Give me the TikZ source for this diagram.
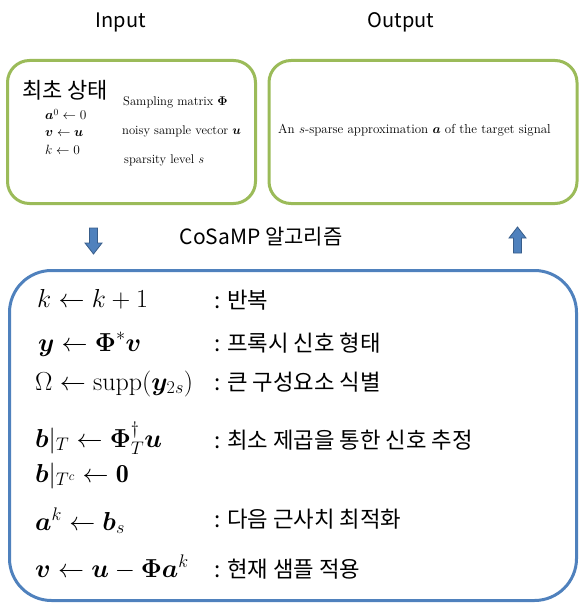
\RequirePackage{fix-cm}
\documentclass[tikz,border=0pt]{standalone}
\usepackage{amsmath,amssymb,bm}
\usepackage{fontspec}
\newfontfamily\krfont{Noto Sans CJK KR}
\definecolor{grn}{HTML}{9BBB59}
\definecolor{blu}{HTML}{4F81BD}
\definecolor{bludark}{HTML}{385D8A}
\tikzset{
  gbox/.style={draw=grn, line width=3pt, rounded corners=22pt, inner sep=0pt},
  bbox/.style={draw=blu, line width=3pt, rounded corners=42pt, inner sep=0pt},
  head/.style={anchor=base, inner sep=0pt, font=\krfont\fontsize{20}{24}\selectfont},
  title/.style={anchor=base west, inner sep=0pt, font=\krfont\fontsize{22}{26}\selectfont},
  small/.style={anchor=base west, inner sep=0pt, font=\fontsize{12.6}{15}\selectfont},
  smallmath/.style={anchor=base west, inner sep=0pt, font=\fontsize{13.4}{16}\selectfont},
  mrow/.style={anchor=base west, inner sep=0pt, font=\fontsize{26}{31}\selectfont},
  lbl/.style={anchor=base west, inner sep=0pt, font=\krfont\fontsize{22.3}{26}\selectfont},
  blockarrow/.style={fill=blu, draw=bludark, line width=0.8pt, line join=miter}
}
\begin{document}
\begin{tikzpicture}[x=1pt,y=-1pt]
\useasboundingbox (0,0) rectangle (579,604);
% headings
\node[head] (inlbl) at (121,28) {Input};
\node[head] (outlbl) at (401,28) {Output};
% boxes
\node[gbox, minimum width=248pt, minimum height=143pt] (inbox) at (131.5,132) {};
\node[gbox, minimum width=308pt, minimum height=143pt] (outbox) at (423,132) {};
\node[bbox, minimum width=567pt, minimum height=330pt] (algbox) at (293,435.5) {};
% input box contents
\node[title] (init) at (22,99) {최초 상태};
\node[smallmath] (i1) at (45,120) {$\boldsymbol{a}^0 \leftarrow 0$};
\node[smallmath] (i2) at (45,137) {$\boldsymbol{v} \leftarrow \boldsymbol{u}$};
\node[smallmath] (i3) at (45,154) {$k \leftarrow 0$};
\node[small] (p1) at (123,106) {Sampling matrix $\boldsymbol{\Phi}$};
\node[small] (p2) at (122,135) {noisy sample vector $\boldsymbol{u}$};
\node[small] (p3) at (124,164) {sparsity level $s$};
% output box contents
\node[small, font=\fontsize{13}{15}\selectfont] (o1) at (278,134) {An $s$-sparse approximation $\boldsymbol{a}$ of the target signal};
% block arrows
\filldraw[blockarrow] (89.5,228) -- (97.5,228) -- (97.5,243) -- (102,243) -- (93.5,254) -- (85,243) -- (89.5,243) -- cycle;
\filldraw[blockarrow] (513.5,253) -- (521.5,253) -- (521.5,238) -- (526,238) -- (517.5,227) -- (509,238) -- (513.5,238) -- cycle;
\node[head, font=\krfont\fontsize{21}{25}\selectfont] (alg) at (261,244) {CoSaMP 알고리즘};
% algorithm rows
\node[mrow] (m1) at (37,307) {$k \leftarrow k+1$};
\node[mrow] (m2) at (38,351) {$\boldsymbol{y} \leftarrow \boldsymbol{\Phi}^{*}\boldsymbol{v}$};
\node[mrow] (m3) at (35,390) {$\Omega \leftarrow \operatorname{supp}(\boldsymbol{y}_{2s})$};
\node[mrow] (m4) at (35,447) {$\boldsymbol{b}|_{T} \leftarrow \boldsymbol{\Phi}_{T}^{\dagger}\boldsymbol{u}$};
\node[mrow] (m5) at (35,482) {$\boldsymbol{b}|_{T^{c}} \leftarrow \mathbf{0}$};
\node[mrow] (m6) at (35,530) {$\boldsymbol{a}^{k} \leftarrow \boldsymbol{b}_{s}$};
\node[mrow] (m7) at (35,577) {$\boldsymbol{v} \leftarrow \boldsymbol{u} - \boldsymbol{\Phi}\boldsymbol{a}^{k}$};
\node[lbl] (l1) at (214,308.5) {: 반복};
\node[lbl] (l2) at (214,351.5) {: 프록시 신호 형태};
\node[lbl] (l3) at (214,390.5) {: 큰 구성요소 식별};
\node[lbl] (l4) at (214,448.5) {: 최소 제곱을 통한 신호 추정};
\node[lbl] (l6) at (214,527.5) {: 다음 근사치 최적화};
\node[lbl] (l7) at (214,577.5) {: 현재 샘플 적용};
\end{tikzpicture}
\end{document}
